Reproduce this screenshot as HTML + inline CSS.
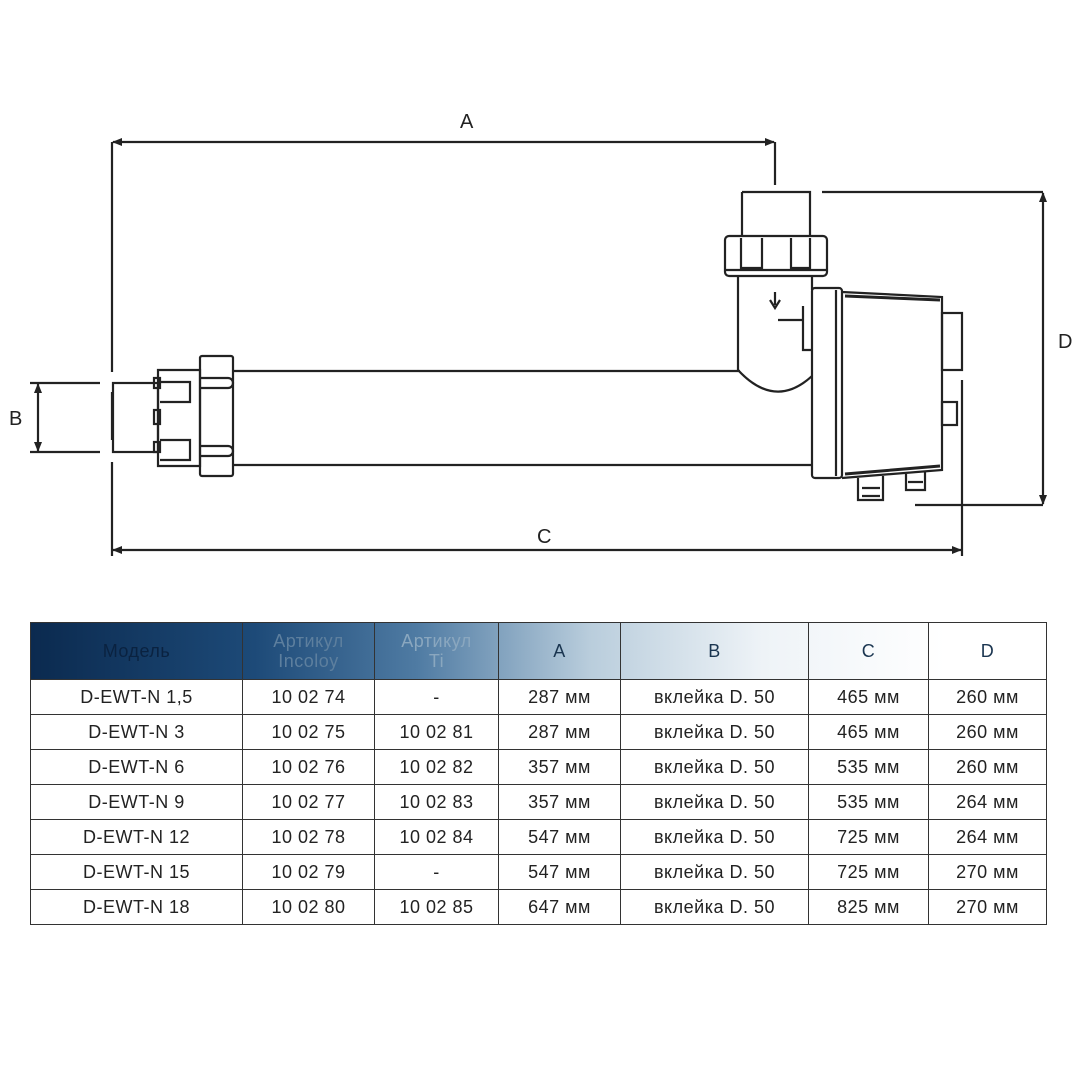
<!DOCTYPE html>
<html><head><meta charset="utf-8"><style>
body{margin:0;width:1080px;height:1080px;background:#fff;position:relative;overflow:hidden;font-family:"Liberation Sans",sans-serif}
svg{position:absolute;left:0;top:0}
table{position:absolute;left:30px;top:622px;width:1016px;border-collapse:collapse;table-layout:fixed}
td{border:1.5px solid #333;text-align:center;font-size:18px;color:#222;height:34px;padding:0;letter-spacing:0.5px}
tr.h td{height:56px;font-size:18px;color:#1a3550;line-height:20px}
tr.h{background:linear-gradient(90deg,#0b2a4f 0%,#1d4a78 22%,#4f7ba3 38%,#b9cddc 55%,#eef3f7 72%,#fff 90%)}
</style></head><body>
<svg width="1080" height="620" viewBox="0 0 1080 620" fill="none" stroke="#222" stroke-width="2.2">
<defs><marker id="a" markerWidth="10" markerHeight="8" refX="9" refY="4" orient="auto-start-reverse" markerUnits="userSpaceOnUse"><path d="M0,0L10,4L0,8z" fill="#222" stroke="none"/></marker></defs>
<g font-family="Liberation Sans" font-size="20" fill="#222" stroke="none">
<text x="460" y="128">A</text><text x="537" y="543">C</text><text x="1058" y="348">D</text><text x="9" y="425">B</text></g>
<line x1="113" y1="142" x2="774" y2="142" marker-start="url(#a)" marker-end="url(#a)"/>
<line x1="113" y1="550" x2="961" y2="550" marker-start="url(#a)" marker-end="url(#a)"/>
<line x1="1043" y1="193" x2="1043" y2="504" marker-start="url(#a)" marker-end="url(#a)"/>
<line x1="38" y1="384" x2="38" y2="451" marker-start="url(#a)" marker-end="url(#a)"/>
<path d="M112 142V372M112 392V440M112 462V556M775 142V185M962 380V556M822 192H1043M915 505H1043M30 383H100M30 452H100"/>
<rect x="113" y="383" width="45" height="69"/>
<path d="M158 370H200V466H158Z"/>
<rect x="154" y="378" width="6" height="10"/><rect x="154" y="410" width="6" height="14"/><rect x="154" y="442" width="6" height="10"/>
<path d="M160 382H190V402H160M160 440H190V460H160"/>
<rect x="200" y="356" width="33" height="120" rx="2"/>
<path d="M200 378H228a4 4 0 0 1 0 10H200M200 446H228a4 4 0 0 1 0 10H200"/>
<path d="M233 371H740M233 465H812"/>
<path d="M742 192H810V236M742 236V192"/>
<rect x="725" y="236" width="102" height="40" rx="4"/>
<path d="M741 238V268H762V238M791 238V268H810V238M725 270H827"/>
<path d="M738 277V370Q775 410 812 376M812 277V290"/>
<path d="M775 292V305M770 300L775 308L780 300"/>
<path d="M778 320H803M803 306V350H812"/>
<rect x="812" y="288" width="30" height="190" rx="3"/><line x1="836" y1="290" x2="836" y2="476"/>
<path d="M842 292L942 297V470L842 478"/>
<path d="M845 296L940 300M845 474L940 466" stroke-width="3"/>
<rect x="942" y="313" width="20" height="57"/><rect x="942" y="402" width="15" height="23"/>
<path d="M858 478V500H883V476M862 488H880M862 496H880M906 474V490H925V472M908 482H923"/>
</svg>
<table>
<colgroup><col style="width:212px"><col style="width:132px"><col style="width:124px"><col style="width:122px"><col style="width:188px"><col style="width:120px"><col style="width:118px"></colgroup>
<tr class="h"><td style="color:#0a2240">Модель</td><td style="color:#5d7f9e">Артикул<br>Incoloy</td><td style="color:#8aa7bf">Артикул<br>Ti</td><td>A</td><td>B</td><td>C</td><td>D</td></tr>
<tr><td>D-EWT-N 1,5</td><td>10 02 74</td><td>-</td><td>287 мм</td><td>вклейка D. 50</td><td>465 мм</td><td>260 мм</td></tr>
<tr><td>D-EWT-N 3</td><td>10 02 75</td><td>10 02 81</td><td>287 мм</td><td>вклейка D. 50</td><td>465 мм</td><td>260 мм</td></tr>
<tr><td>D-EWT-N 6</td><td>10 02 76</td><td>10 02 82</td><td>357 мм</td><td>вклейка D. 50</td><td>535 мм</td><td>260 мм</td></tr>
<tr><td>D-EWT-N 9</td><td>10 02 77</td><td>10 02 83</td><td>357 мм</td><td>вклейка D. 50</td><td>535 мм</td><td>264 мм</td></tr>
<tr><td>D-EWT-N 12</td><td>10 02 78</td><td>10 02 84</td><td>547 мм</td><td>вклейка D. 50</td><td>725 мм</td><td>264 мм</td></tr>
<tr><td>D-EWT-N 15</td><td>10 02 79</td><td>-</td><td>547 мм</td><td>вклейка D. 50</td><td>725 мм</td><td>270 мм</td></tr>
<tr><td>D-EWT-N 18</td><td>10 02 80</td><td>10 02 85</td><td>647 мм</td><td>вклейка D. 50</td><td>825 мм</td><td>270 мм</td></tr>
</table>
</body></html>
